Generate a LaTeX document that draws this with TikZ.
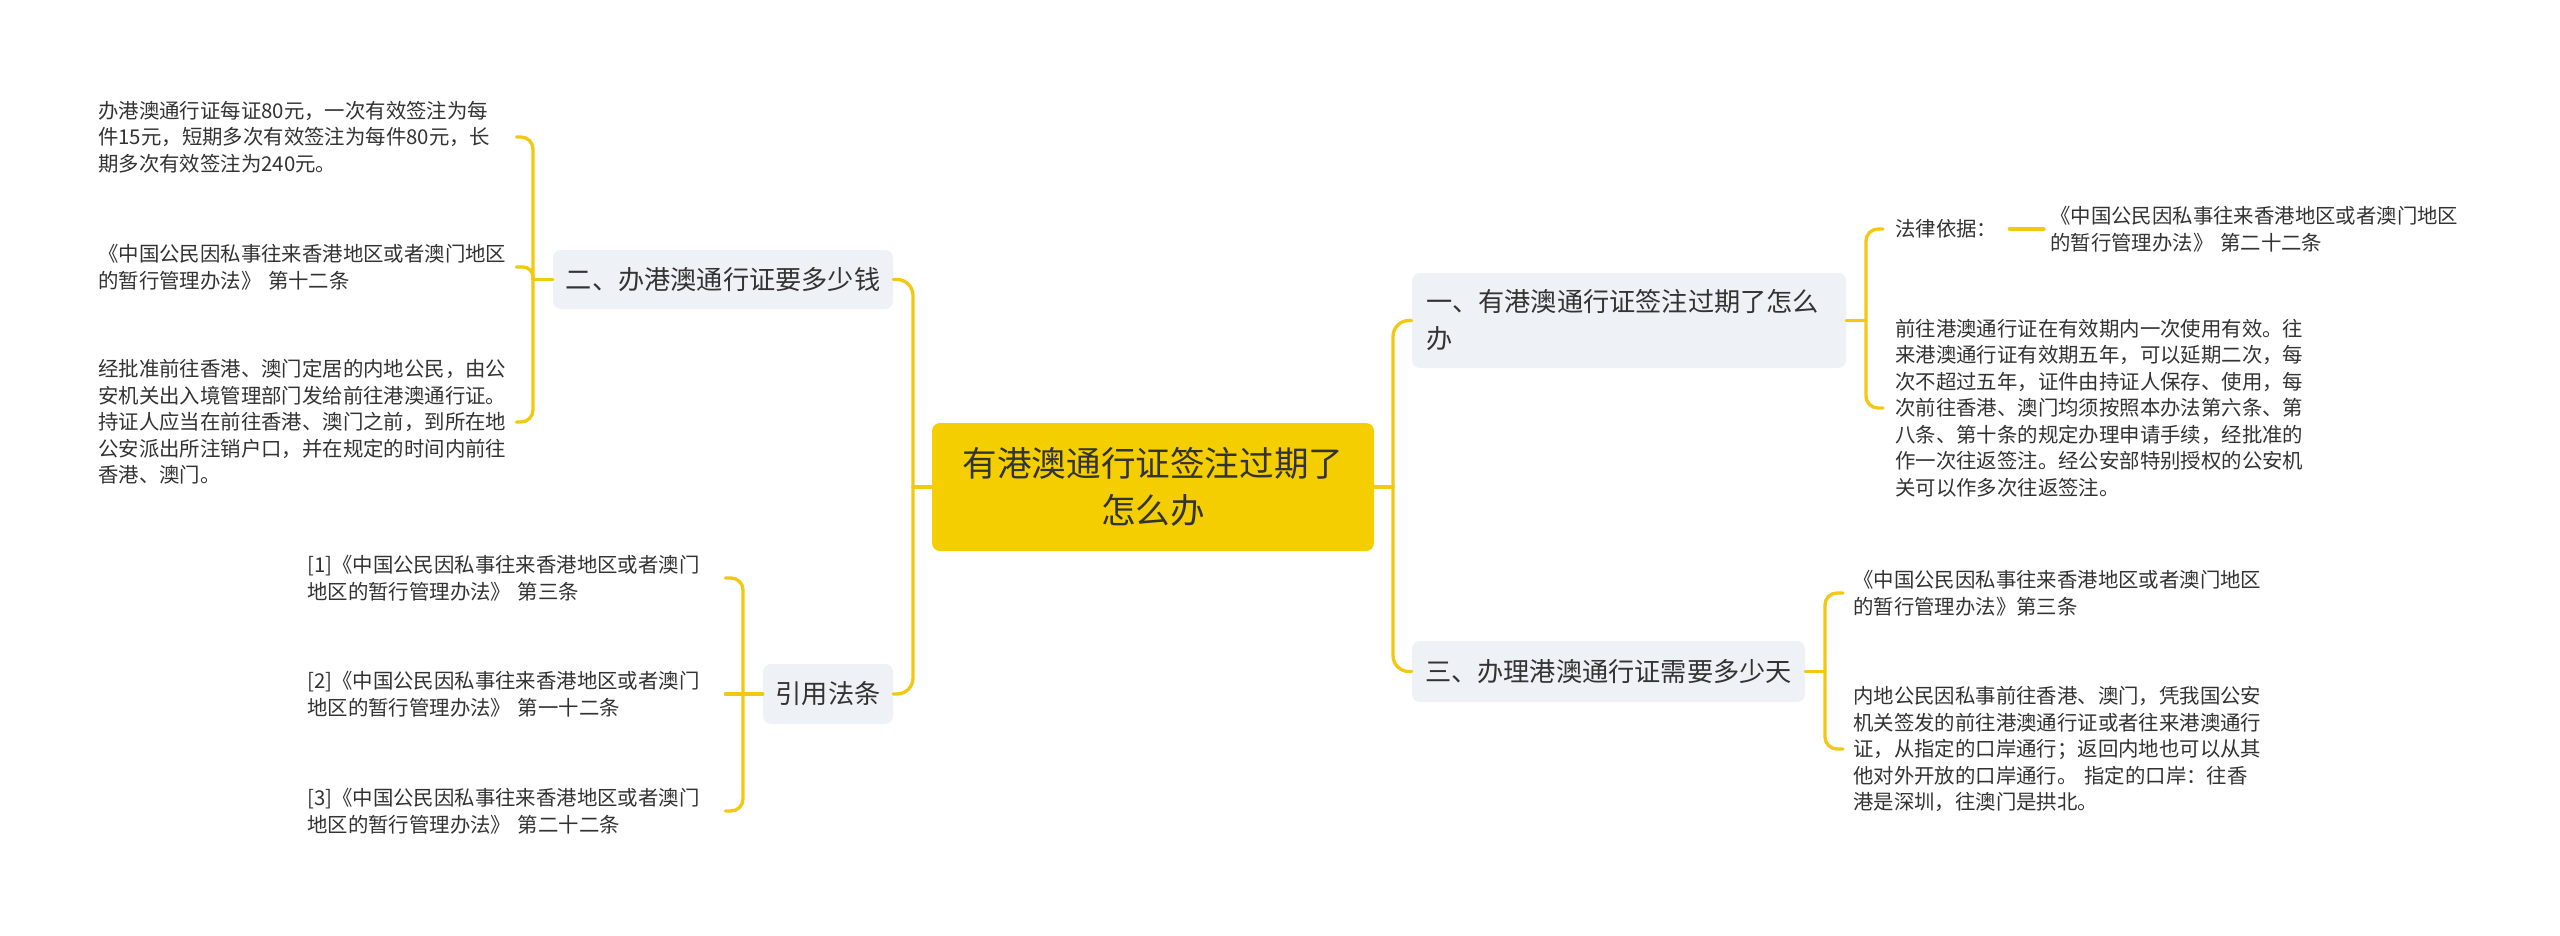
\documentclass[tikz,border=0pt]{standalone}
\usepackage{fontspec}
\newfontfamily\cjk{Noto Sans CJK SC}
\definecolor{lineY}{HTML}{F2C811}
\definecolor{centerY}{HTML}{F5CE00}
\definecolor{boxG}{HTML}{EEF1F5}
\definecolor{txt}{HTML}{333333}
\tikzset{
  conn/.style={draw=lineY, line width=3.3pt, line cap=round},
  centerbox/.style={fill=centerY, rounded corners=8pt, minimum width=442pt, minimum height=128pt,
    align=center, inner sep=0pt, text=txt, font=\cjk\fontsize{34.6}{47}\selectfont},
  topicbox/.style={fill=boxG, rounded corners=8pt, inner sep=0pt, text=txt,
    font=\cjk\fontsize{26.2}{37}\selectfont},
  leaf/.style={anchor=west, align=left, inner xsep=10pt, inner ysep=0pt, text=txt,
    font=\cjk\fontsize{20.4}{26.5}\selectfont},
}
\begin{document}
\begin{tikzpicture}[x=1pt,y=-1pt]
\useasboundingbox (0,0) rectangle (2560,935);
\fill[white] (0,0) rectangle (2560,935);

% bracket x positions
\coordinate (xL2) at (533,0);
\coordinate (xLC) at (743,0);
\coordinate (xL) at (913,0);
\coordinate (xR) at (1393,0);
\coordinate (xR1) at (1866,0);
\coordinate (xR3) at (1825,0);

% center
\node[centerbox] (c) at (1153,487) {有港澳通行证签注过期了\\怎么办};

% level-1 topics
\node[topicbox, minimum width=340pt, minimum height=59pt] (b2) at (723,279.5) {二、办港澳通行证要多少钱};
\node[topicbox, minimum width=130pt, minimum height=60pt] (cite) at (828,694) {引用法条};
\node[topicbox, text width=406pt, align=left, minimum width=434pt, minimum height=95pt] (b1) at (1629,320.5) {一、有港澳通行证签注过期了怎么\\办};
\node[topicbox, minimum width=393pt, minimum height=61pt] (b3) at (1608.5,671.5) {三、办理港澳通行证需要多少天};

% left leaves of b2
\node[leaf, text width=408pt] (l1) at (88,137) {办港澳通行证每证80元，一次有效签注为每\\件15元，短期多次有效签注为每件80元，长\\期多次有效签注为240元。};
\node[leaf, text width=408pt] (l2) at (88,267) {《中国公民因私事往来香港地区或者澳门地区\\的暂行管理办法》 第十二条};
\node[leaf, text width=408pt] (l3) at (88,422) {经批准前往香港、澳门定居的内地公民，由公\\安机关出入境管理部门发给前往港澳通行证。\\持证人应当在前往香港、澳门之前，到所在地\\公安派出所注销户口，并在规定的时间内前往\\香港、澳门。};

% left leaves of cite
\node[leaf, text width=408pt] (l4) at (297,578) {[1]《中国公民因私事往来香港地区或者澳门\\地区的暂行管理办法》 第三条};
\node[leaf, text width=408pt] (l5) at (297,694) {[2]《中国公民因私事往来香港地区或者澳门\\地区的暂行管理办法》 第一十二条};
\node[leaf, text width=408pt] (l6) at (297,811) {[3]《中国公民因私事往来香港地区或者澳门\\地区的暂行管理办法》 第二十二条};

% right leaves of b1
\node[leaf, inner xsep=12pt] (law1) at (1883,229) {法律依据：};
\node[leaf, inner xsep=6pt, text width=408pt] (law2) at (2044,229) {《中国公民因私事往来香港地区或者澳门地区\\的暂行管理办法》 第二十二条};
\node[leaf, inner xsep=12pt, text width=408pt] (r2) at (1883,408) {前往港澳通行证在有效期内一次使用有效。往\\来港澳通行证有效期五年，可以延期二次，每\\次不超过五年，证件由持证人保存、使用，每\\次前往香港、澳门均须按照本办法第六条、第\\八条、第十条的规定办理申请手续，经批准的\\作一次往返签注。经公安部特别授权的公安机\\关可以作多次往返签注。};

% right leaves of b3
\node[leaf, text width=408pt] (r3) at (1843,593) {《中国公民因私事往来香港地区或者澳门地区\\的暂行管理办法》第三条};
\node[leaf, text width=408pt] (r4) at (1843,749) {内地公民因私事前往香港、澳门，凭我国公安\\机关签发的前往港澳通行证或者往来港澳通行\\证，从指定的口岸通行；返回内地也可以从其\\他对外开放的口岸通行。 指定的口岸：往香\\港是深圳，往澳门是拱北。};

% main trunks
\draw[conn] (c.west) -- (c.west -| xL);
\draw[conn, rounded corners=16pt] (b2.east) -- (b2.east -| xL) -- (cite.east -| xL) -- (cite.east);
\draw[conn] (c.east) -- (c.east -| xR);
\draw[conn, rounded corners=16pt] (b1.west) -- (b1.west -| xR) -- (b3.west -| xR) -- (b3.west);

% b2 bracket
\draw[conn] (b2.west) -- (b2.west -| xL2);
\draw[conn, rounded corners=12pt] (l1.east) -- (l1.east -| xL2) -- (l3.east -| xL2) -- (l3.east);
\draw[conn, rounded corners=10pt] (l2.east) -- (l2.east -| xL2) -- (b2.west -| xL2);

% cite bracket
\draw[conn] (cite.west) -- (l5.east);
\draw[conn, rounded corners=12pt] (l4.east) -- (l4.east -| xLC) -- (l6.east -| xLC) -- (l6.east);

% b1 bracket
\draw[conn] (b1.east) -- (b1.east -| xR1);
\draw[conn, rounded corners=12pt] (law1.west) -- (law1.west -| xR1) -- (r2.west -| xR1) -- (r2.west);
\draw[conn] (law1.east) -- (law2.west);

% b3 bracket
\draw[conn] (b3.east) -- (b3.east -| xR3);
\draw[conn, rounded corners=12pt] (r3.west) -- (r3.west -| xR3) -- (r4.west -| xR3) -- (r4.west);
\end{tikzpicture}
\end{document}
